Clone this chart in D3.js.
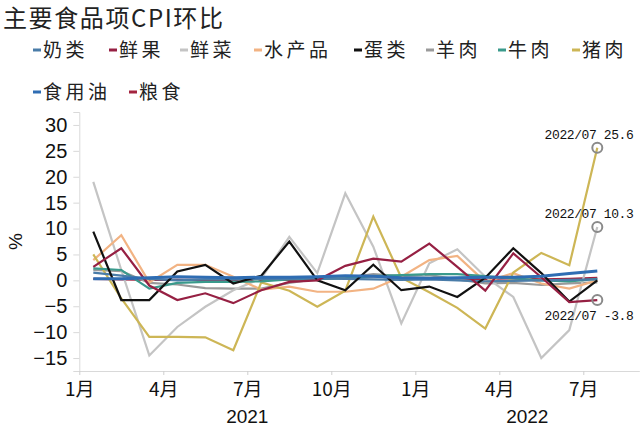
<!DOCTYPE html>
<html lang="zh">
	<head>
		<meta charset="UTF-8" />
		<title>主要食品项CPI环比</title>
		<style>
			body { margin: 0; background: #fff; }
			text { font-family: 'Liberation Sans', Arial, sans-serif; }
			text.cjk { font-family: 'Noto Sans CJK SC', sans-serif; }
			text.mono { font-family: 'Liberation Mono', 'DejaVu Sans Mono', monospace; }
		</style>
	</head>
	<body>
		<svg id="svg" width="640" height="427"></svg>

		<script src="https://cdn.jsdelivr.net/npm/d3@7"></script>
		<script>
			// months Jan 2021 .. Jul 2022 (19 points), axis runs one month further
			const months = ['2021/01','2021/02','2021/03','2021/04','2021/05','2021/06','2021/07','2021/08','2021/09','2021/10','2021/11','2021/12','2022/01','2022/02','2022/03','2022/04','2022/05','2022/06','2022/07'];
			const tickMonths = [0, 3, 6, 9, 12, 15, 18];
			const tickLabels = ['1月', '4月', '7月', '10月', '1月', '4月', '7月'];
			const years = [{ label: '2021', from: 0, to: 12 }, { label: '2022', from: 12, to: 20 }];
			const yTicks = [-15, -10, -5, 0, 5, 10, 15, 20, 25, 30];

			const names = ['奶类', '鲜果', '鲜菜', '水产品', '蛋类', '羊肉', '牛肉', '猪肉', '食用油', '粮食'];
			const colors = ['#4a7ca8', '#962043', '#c4c4c4', '#f2b383', '#111111', '#9a9a9a', '#3a9a8c', '#cdb656', '#2f6db3', '#a3243f'];

			const dairy = [1.5, 0.9, 0.3, 0.0, 0.2, 0.2, 0.3, 0.3, 0.4, 0.3, 0.2, 0.1, 0.2, 0.0, -0.2, -0.1, 0.0, 0.1, 0.2];
			const fruit = [2.6, 6.2, -1.0, -3.8, -2.5, -4.4, -1.9, -0.3, 0.0, 2.8, 4.2, 3.6, 7.1, 2.6, -2.0, 5.2, 0.6, -4.2, -3.8];
			const vegetables = [19.0, 2.0, -14.5, -9.0, -5.1, -1.9, 0.4, 8.4, 1.4, 16.8, 6.5, -8.3, 3.3, 6.0, 0.7, -3.2, -15.0, -9.6, 10.3];
			const aquatic = [3.9, 8.7, -0.4, 3.0, 3.0, 0.7, -1.8, -1.2, -2.2, -2.2, -1.6, 0.7, 3.9, 4.7, -0.3, 1.4, -0.6, -1.6, 0.0];
			const eggs = [9.4, -3.8, -3.8, 1.7, 3.0, -0.6, 0.9, 7.5, 0.0, -1.9, 3.0, -1.9, -1.2, -3.2, 0.5, 6.2, 1.4, -4.1, 0.0];
			const mutton = [2.0, 1.8, -0.5, -0.8, -1.5, -1.6, -1.6, -0.5, 0.3, 0.5, 1.2, 0.8, 1.0, 0.2, -0.6, -0.5, -0.9, -0.6, -0.4];
			const beef = [2.3, 2.0, -1.6, -0.5, -0.3, -0.3, -0.2, 0.2, 0.3, 0.4, 0.8, 1.0, 1.2, 1.2, 0.8, 0.4, 0.0, -0.2, 0.3];
			const pork = [5.0, -3.5, -10.9, -10.9, -11.0, -13.5, -0.4, -2.0, -5.1, -2.0, 12.3, 0.5, -2.3, -5.3, -9.3, 1.5, 5.3, 2.9, 25.6];
			const oil = [0.3, 0.3, 0.5, 0.7, 0.6, 0.5, 0.6, 0.6, 0.7, 0.9, 0.8, 0.5, 0.4, 0.5, 0.6, 0.6, 0.8, 1.3, 1.8];
			const grain = [0.3, 0.2, 0.1, 0.1, 0.1, 0.0, 0.1, 0.1, 0.2, 0.6, 0.8, 0.4, 0.3, 0.2, 0.3, 0.4, 0.2, 0.3, 0.5];

			const series = [dairy, fruit, vegetables, aquatic, eggs, mutton, beef, pork, oil, grain];
			// order the lines are painted in (last on top)
			const drawOrder = [9, 5, 2, 3, 7, 6, 0, 4, 1, 8];
			const callouts = [7, 2, 1];

			const svg = d3.select('#svg');

			const x = d3.scaleLinear().domain([0, 20]).range([79.3, 639.3]);
			const y = d3.scaleLinear().domain([-17.5, 32.5]).range([371, 112]);
			const xc = (i) => x(i + 0.5);

			// title
			svg.append('text')
				.attr('class', 'cjk')
				.attr('x', 3)
				.attr('y', 27)
				.attr('font-size', 24)
				.attr('letter-spacing', 1.6)
				.attr('fill', '#222')
				.text('主要食品项CPI环比');

			// legend
			const legendPos = [
				[33, 50], [109, 50], [180, 50], [254, 50], [354, 50], [426, 50], [498, 50], [572, 50],
				[33, 92], [129, 92]
			];
			const legend = svg.selectAll('g.legend')
				.data(names)
				.enter()
				.append('g')
				.attr('class', 'legend')
				.attr('transform', (d, i) => `translate(${legendPos[i][0]},${legendPos[i][1]})`);
			legend.append('line')
				.attr('x1', 0)
				.attr('x2', 8)
				.attr('stroke', (d, i) => colors[i])
				.attr('stroke-width', 3);
			legend.append('text')
				.attr('class', 'cjk')
				.attr('x', 10)
				.attr('dy', '0.36em')
				.attr('font-size', 19)
				.attr('letter-spacing', 3.5)
				.attr('fill', '#222')
				.text((d) => d);

			// axes
			const yAxis = svg.append('g')
				.attr('transform', `translate(${x(0)},0)`)
				.call(d3.axisLeft(y).tickValues(yTicks).tickSize(6).tickPadding(6));
			yAxis.select('.domain').attr('stroke', '#d9d9d9');
			yAxis.selectAll('.tick line').attr('stroke', '#d9d9d9');
			yAxis.selectAll('.tick text').attr('font-size', 20).attr('fill', '#111');

			const xAxis = svg.append('g')
				.attr('transform', `translate(0,${y(-17.5)})`)
				.call(d3.axisBottom(x).tickValues(tickMonths).tickFormat((d, i) => tickLabels[i]).tickSize(4).tickSizeOuter(0).tickPadding(8));
			xAxis.select('.domain').attr('stroke', '#d9d9d9');
			xAxis.selectAll('.tick line').attr('stroke', '#cfcfcf');
			xAxis.selectAll('.tick text').attr('class', 'cjk').attr('font-size', 19).attr('fill', '#111');

			svg.selectAll('text.year')
				.data(years)
				.enter()
				.append('text')
				.attr('class', 'year')
				.attr('x', (d) => (x(d.from) + x(d.to)) / 2)
				.attr('y', 423)
				.attr('text-anchor', 'middle')
				.attr('font-size', 19)
				.attr('fill', '#111')
				.text((d) => d.label);

			svg.append('text')
				.attr('transform', `translate(22,${y(7.5)}) rotate(-90)`)
				.attr('text-anchor', 'middle')
				.attr('font-size', 19)
				.attr('fill', '#111')
				.text('%');

			// lines
			const line = d3.line()
				.x((d, i) => xc(i))
				.y((d) => y(d));

			svg.append('g')
				.selectAll('path')
				.data(drawOrder)
				.enter()
				.append('path')
				.attr('d', (k) => line(series[k]))
				.attr('fill', 'none')
				.attr('stroke', (k) => colors[k])
				.attr('stroke-width', (k) => (k === 8 ? 3 : 2.2))
				.attr('stroke-linejoin', 'miter');

			// callouts on the last month
			const last = months.length - 1;
			const callout = svg.selectAll('g.callout')
				.data(callouts)
				.enter()
				.append('g')
				.attr('class', 'callout');
			callout.append('circle')
				.attr('cx', xc(last))
				.attr('cy', (k) => y(series[k][last]))
				.attr('r', 5)
				.attr('fill', 'none')
				.attr('stroke', '#8a8a8a')
				.attr('stroke-width', 2);
			callout.append('text')
				.attr('class', 'mono')
				.attr('x', 589)
				.attr('y', (k) => y(series[k][last]) + (series[k][last] < 0 ? 20 : -9))
				.attr('text-anchor', 'middle')
				.attr('font-size', 13)
				.attr('letter-spacing', -0.4)
				.attr('fill', '#111')
				.text((k) => `${months[last]} ${series[k][last].toFixed(1)}`);
		</script>
	</body>
</html>
